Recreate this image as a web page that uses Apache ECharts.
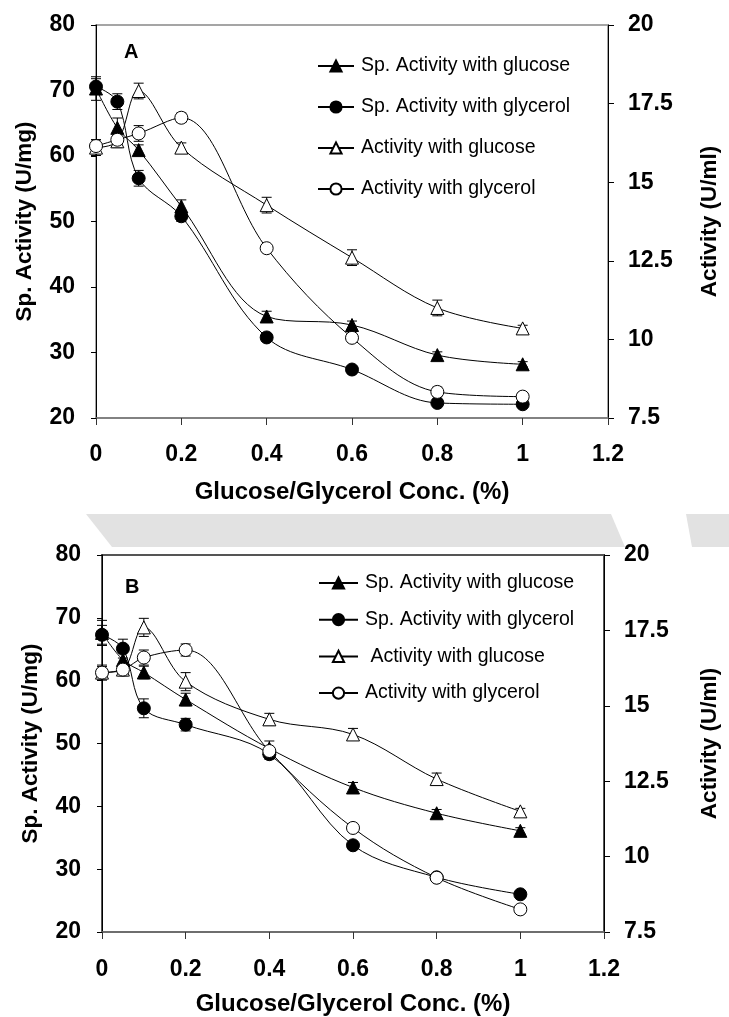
<!DOCTYPE html>
<html>
<head>
<meta charset="utf-8">
<script src="https://cdn.jsdelivr.net/npm/echarts@6/dist/echarts.min.js"></script>
<style>
html,body{margin:0;padding:0;background:#fff;}
#chart{width:729px;height:1017px;}
</style>
</head>
<body>
<div id="chart"></div>
<script>
// ---------- data ----------
const xVals = [0, 0.05, 0.1, 0.2, 0.4, 0.6, 0.8, 1];

// Panel A
const spGlucoseA   = [70.3, 64.3, 60.9, 52.3, 35.5, 34.2, 29.6, 28.2];
const spGlycerolA  = [70.6, 68.3, 56.6, 50.8, 32.3, 27.4, 22.3, 22.1];
const actGlucoseA  = [16.1, 16.3, 17.9, 16.1, 14.27, 12.6, 11.0, 10.35];
const actGlycerolA = [16.15, 16.35, 16.55, 17.05, 12.9, 10.05, 8.33, 8.18];
const spGlucoseAErr   = [1.8, 1.5, 0.8, 1.0, 0.8, 0.6, 0.5, 0.4];
const spGlycerolAErr  = [1.2, 1.2, 1.2, 0.8, 0.6, 0.5, 0.5, 0.5];
const actGlucoseAErr  = [0.25, 0.15, 0.25, 0.15, 0.25, 0.25, 0.25, 0.1];
const actGlycerolAErr = [0.2, 0.25, 0.25, 0.15, 0.1, 0.15, 0.15, 0.1];

// Panel B
const spGlucoseB   = [67.6, 63.3, 61.3, 57.0, 49.2, 43.0, 38.9, 36.1];
const spGlycerolB  = [67.3, 65.1, 55.6, 53.0, 48.3, 33.8, 28.7, 26.0];
const actGlucoseB  = [16.1, 16.2, 17.6, 15.8, 14.55, 14.05, 12.57, 11.5];
const actGlycerolB = [16.1, 16.2, 16.6, 16.85, 13.5, 10.95, 9.3, 8.25];
const spGlucoseBErr   = [2.0, 1.5, 1.0, 1.0, 1.2, 0.8, 0.6, 0.5];
const spGlycerolBErr  = [1.5, 1.5, 1.5, 1.0, 0.8, 0.6, 0.5, 0.5];
const actGlucoseBErr  = [0.25, 0.2, 0.3, 0.3, 0.2, 0.2, 0.2, 0.1];
const actGlycerolBErr = [0.2, 0.2, 0.25, 0.2, 0.1, 0.15, 0.1, 0.1];

const namesA = ['Sp. Activity with glucose', 'Sp. Activity with glycerol', 'Activity with glucose', 'Activity with glycerol'];
const namesB = ['Sp. Activity with glucose', 'Sp. Activity with glycerol', ' Activity with glucose', 'Activity with glycerol'];

const xTitle = 'Glucose/Glycerol Conc. (%)';
const leftTitle = 'Sp. Activity (U/mg)';
const rightTitle = 'Activity (U/ml)';

// ---------- helpers ----------
const FONT = "'Liberation Sans', Arial, sans-serif";
const pairs = ys => xVals.map((x, i) => [x, ys[i]]);
const errData = (ys, es) => xVals.map((x, i) => [x, ys[i] - es[i], ys[i] + es[i]]);

const styles = [
  { symbol: 'triangle', symbolSize: 13, itemStyle: { color: '#000', borderColor: '#000', borderWidth: 1 } },
  { symbol: 'circle', symbolSize: 13, itemStyle: { color: '#000', borderColor: '#000', borderWidth: 1 } },
  { symbol: 'triangle', symbolSize: 13, itemStyle: { color: '#fff', borderColor: '#000', borderWidth: 1 } },
  { symbol: 'circle', symbolSize: 13, itemStyle: { color: '#fff', borderColor: '#000', borderWidth: 1 } }
];

function lineSeries(name, ys, styleIdx, xi, yi) {
  const s = styles[styleIdx];
  return {
    name: name, type: 'line', xAxisIndex: xi, yAxisIndex: yi,
    data: pairs(ys), smooth: 0.35,
    symbol: s.symbol, symbolSize: s.symbolSize, itemStyle: s.itemStyle,
    lineStyle: { color: '#000', width: 1 },
    z: 3, animation: false
  };
}
function errSeries(ys, es, xi, yi) {
  return {
    type: 'custom', xAxisIndex: xi, yAxisIndex: yi, z: 2, silent: true, animation: false,
    data: errData(ys, es),
    renderItem: function (params, api) {
      const x = api.value(0);
      const lo = api.coord([x, api.value(1)]);
      const hi = api.coord([x, api.value(2)]);
      const w = 5;
      const st = { stroke: '#000', lineWidth: 1 };
      return {
        type: 'group', children: [
          { type: 'line', shape: { x1: lo[0], y1: lo[1], x2: hi[0], y2: hi[1] }, style: st },
          { type: 'line', shape: { x1: lo[0] - w, y1: lo[1], x2: lo[0] + w, y2: lo[1] }, style: st },
          { type: 'line', shape: { x1: hi[0] - w, y1: hi[1], x2: hi[0] + w, y2: hi[1] }, style: st }
        ]
      };
    }
  };
}

function xAxisCfg(gi, labelMargin, nameGap) {
  return {
    type: 'value', gridIndex: gi, min: 0, max: 1.2, interval: 0.2,
    name: xTitle, nameLocation: 'middle', nameGap: nameGap,
    nameTextStyle: { fontFamily: FONT, fontWeight: 'bold', fontSize: 24, color: '#000' },
    axisLine: { show: true, onZero: false, lineStyle: { color: '#777', width: 1.5 } },
    axisTick: { show: true, inside: false, length: 7, lineStyle: { color: '#333' } },
    axisLabel: { margin: labelMargin, fontFamily: FONT, fontWeight: 'bold', fontSize: 23, color: '#000' },
    splitLine: { show: false }
  };
}
function yLeftCfg(gi, nameGap) {
  return {
    type: 'value', gridIndex: gi, position: 'left', min: 20, max: 80, interval: 10,
    name: leftTitle, nameLocation: 'middle', nameRotate: 90, nameGap: nameGap,
    nameTextStyle: { fontFamily: FONT, fontWeight: 'bold', fontSize: 22.5, color: '#000' },
    axisLine: { show: true, lineStyle: { color: '#000', width: 1 } },
    axisTick: { show: true, inside: false, length: 5, lineStyle: { color: '#000' } },
    axisLabel: { margin: 21, fontFamily: FONT, fontWeight: 'bold', fontSize: 23, color: '#000' },
    splitLine: { show: false }
  };
}
function yRightCfg(gi, nameGap) {
  return {
    type: 'value', gridIndex: gi, position: 'right', min: 7.5, max: 20, interval: 2.5,
    name: rightTitle, nameLocation: 'middle', nameRotate: 90, nameGap: nameGap,
    nameTextStyle: { fontFamily: FONT, fontWeight: 'bold', fontSize: 22.5, color: '#000' },
    axisLine: { show: true, lineStyle: { color: '#000', width: 1 } },
    axisTick: { show: true, inside: false, length: 6, lineStyle: { color: '#000' } },
    axisLabel: { margin: 20, fontFamily: FONT, fontWeight: 'bold', fontSize: 23, color: '#000' },
    splitLine: { show: false }
  };
}
function legendCfg(names, left, top, gap, itemWidth) {
  return {
    data: names, orient: 'vertical', left: left, top: top,
    itemGap: gap, itemWidth: itemWidth, itemHeight: 14, padding: 0,
    selectedMode: false,
    textStyle: { fontFamily: FONT, fontSize: 19.5, color: '#000', lineHeight: 20, padding: [0, 0, 0, 2] }
  };
}

const option = {
  backgroundColor: '#fff',
  animation: false,
  grid: [
    { left: 96, top: 25, width: 523, height: 393, show: true, borderColor: '#888', borderWidth: 1.5, backgroundColor: 'transparent' },
    { left: 102, top: 555, width: 514, height: 378, show: true, borderColor: '#555', borderWidth: 2, backgroundColor: 'transparent' }
  ],
  xAxis: [xAxisCfg(0, 25, 62), xAxisCfg(1, 26, 60)],
  yAxis: [yLeftCfg(0, 60), yRightCfg(0, 90), yLeftCfg(1, 60), yRightCfg(1, 94)],
  legend: [
    legendCfg(namesA, 317, 56, 21, 36),
    legendCfg(namesB, 318, 573, 16.7, 39)
  ],
  graphic: [
    { type: 'polygon', z: -10, shape: { points: [[86, 514], [611, 514], [625, 547], [112, 547]] }, style: { fill: '#e2e2e2' } },
    { type: 'polygon', z: -10, shape: { points: [[686, 514], [729, 514], [729, 547], [692, 547]] }, style: { fill: '#e2e2e2' } },
    { type: 'text', left: 124, top: 42, style: { text: 'A', font: "bold 20px 'Liberation Sans', Arial, sans-serif", fill: '#000' } },
    { type: 'text', left: 125, top: 577, style: { text: 'B', font: "bold 20px 'Liberation Sans', Arial, sans-serif", fill: '#000' } }
  ],
  series: [
    errSeries(spGlucoseA, spGlucoseAErr, 0, 0),
    errSeries(spGlycerolA, spGlycerolAErr, 0, 0),
    errSeries(actGlucoseA, actGlucoseAErr, 0, 1),
    errSeries(actGlycerolA, actGlycerolAErr, 0, 1),
    lineSeries(namesA[0], spGlucoseA, 0, 0, 0),
    lineSeries(namesA[1], spGlycerolA, 1, 0, 0),
    lineSeries(namesA[2], actGlucoseA, 2, 0, 1),
    lineSeries(namesA[3], actGlycerolA, 3, 0, 1),

    errSeries(spGlucoseB, spGlucoseBErr, 1, 2),
    errSeries(spGlycerolB, spGlycerolBErr, 1, 2),
    errSeries(actGlucoseB, actGlucoseBErr, 1, 3),
    errSeries(actGlycerolB, actGlycerolBErr, 1, 3),
    lineSeries(namesB[0], spGlucoseB, 0, 1, 2),
    lineSeries(namesB[1], spGlycerolB, 1, 1, 2),
    lineSeries(namesB[2], actGlucoseB, 2, 1, 3),
    lineSeries(namesB[3], actGlycerolB, 3, 1, 3)
  ]
};

const chart = echarts.init(document.getElementById('chart'), null, { renderer: 'canvas' });
chart.setOption(option);
</script>
</body>
</html>
